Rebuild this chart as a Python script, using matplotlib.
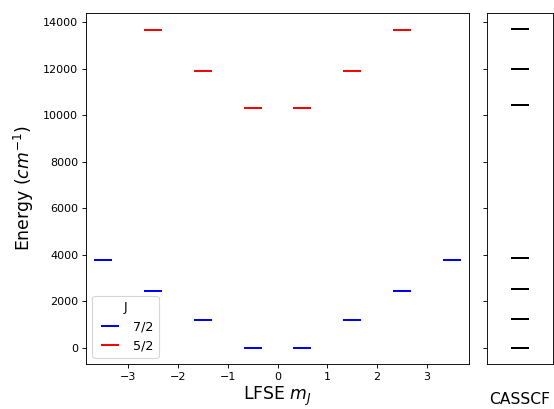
import matplotlib
matplotlib.use("Agg")
import matplotlib.pyplot as plt

# Data
mj_72 = [-3.5, -2.5, -1.5, -0.5, 0.5, 1.5, 2.5, 3.5]
e_72 = [3770, 2440, 1200, 0, 0, 1200, 2440, 3770]
mj_52 = [-2.5, -1.5, -0.5, 0.5, 1.5, 2.5]
e_52 = [13660, 11900, 10320, 10320, 11900, 13660]
casscf = [0, 1230, 2525, 3850, 10430, 11990, 13700]

DPI = 80
fig = plt.figure(figsize=(554 / DPI, 409 / DPI), dpi=DPI)
ax = fig.add_axes([86 / 554, 45 / 409, 383 / 554, 351 / 409])
ax2 = fig.add_axes([487 / 554, 45 / 409, 66 / 554, 351 / 409], sharey=ax)

ms = 16
mew = 1.8
ax.plot(mj_72, e_72, linestyle="none", marker="_", ms=ms, mew=mew, color="b", label="7/2")
ax.plot(mj_52, e_52, linestyle="none", marker="_", ms=ms, mew=mew, color="r", label="5/2")
ax.set_xlabel("LFSE $m_J$", fontsize=15.5, labelpad=3)
ax.set_ylabel("Energy ($cm^{-1}$)", fontsize=15.5, labelpad=6)
ax.legend(title="J", loc="lower left", fontsize=11.5, title_fontsize=11.5)

ax2.plot([0] * len(casscf), casscf, linestyle="none", marker="_", ms=ms, mew=mew, color="k")
ax2.set_xlim(-1, 1)
ax2.set_xticks([])
ax2.tick_params(axis="y", labelleft=False)
ax2.set_xlabel("CASSCF", fontsize=14, labelpad=25)

fig.savefig("out.png", dpi=DPI)
